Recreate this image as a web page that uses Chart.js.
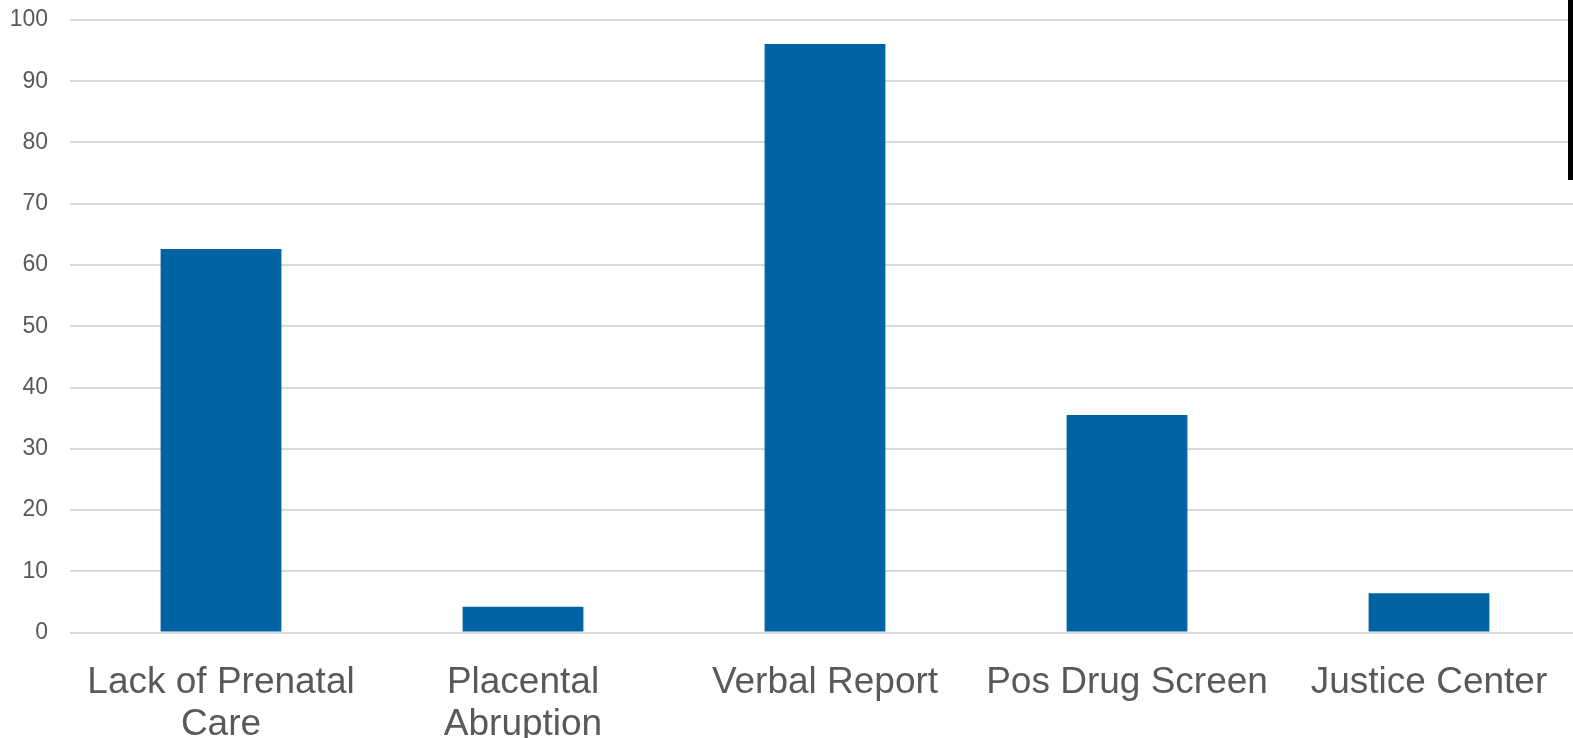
<!DOCTYPE html>
<html>
<head>
<meta charset="utf-8">
<script src="https://cdn.jsdelivr.net/npm/chart.js@4/dist/chart.umd.min.js"></script>
<style>
  html, body { margin: 0; padding: 0; background: #fff; overflow: hidden; }
  #wrap { position: relative; width: 1580px; height: 738px; }
  #edge { position: absolute; left: 1568px; top: 0; width: 6px; height: 180px; background: #000; }
</style>
</head>
<body>
<div id="wrap"><canvas id="chart"></canvas></div>
<div id="edge"></div>
<script>
// categorias (etiquetas en dos lineas cuando hace falta)
const categorias = [
  ['Lack of Prenatal', 'Care'],
  ['Placental', 'Abruption'],
  'Verbal Report',
  'Pos Drug Screen',
  'Justice Center'
];
const valores = [62.6, 4.2, 96.1, 35.5, 6.4];
const ejeY = { min: 0, max: 100, paso: 10 };

const ctx = document.getElementById('chart').getContext('2d');
new Chart(ctx, {
  type: 'bar',
  data: {
    labels: categorias,
    datasets: [{
      data: valores,
      backgroundColor: '#0063a3',
      borderWidth: 0,
      barPercentage: 0.4,
      categoryPercentage: 1
    }]
  },
  options: {
    responsive: true,
    maintainAspectRatio: false,
    animation: false,
    layout: { padding: { top: 20, right: 0, left: 0, bottom: 0 } },
    plugins: {
      legend: { display: false },
      tooltip: { enabled: false }
    },
    scales: {
      x: {
        grid: { display: false },
        border: { display: false },
        ticks: {
          color: '#595959',
          font: { family: 'Liberation Sans', size: 37, lineHeight: 1.12 },
          padding: 22,
          maxRotation: 0,
          autoSkip: false
        },
        afterFit: (scale) => {
          scale.height = 105.5;
          scale.paddingLeft = 0;
          scale.paddingRight = 0;
        }
      },
      y: {
        min: ejeY.min,
        max: ejeY.max,
        grid: { color: '#d9d9d9', lineWidth: 2, drawTicks: false },
        border: { display: false },
        ticks: {
          stepSize: ejeY.paso,
          color: '#595959',
          font: { family: 'Liberation Sans', size: 23 },
          padding: 22
        },
        afterFit: (scale) => {
          scale.width = 70;
          scale.paddingTop = 0;
          scale.paddingBottom = 0;
        }
      }
    }
  }
});
</script>
</body>
</html>
